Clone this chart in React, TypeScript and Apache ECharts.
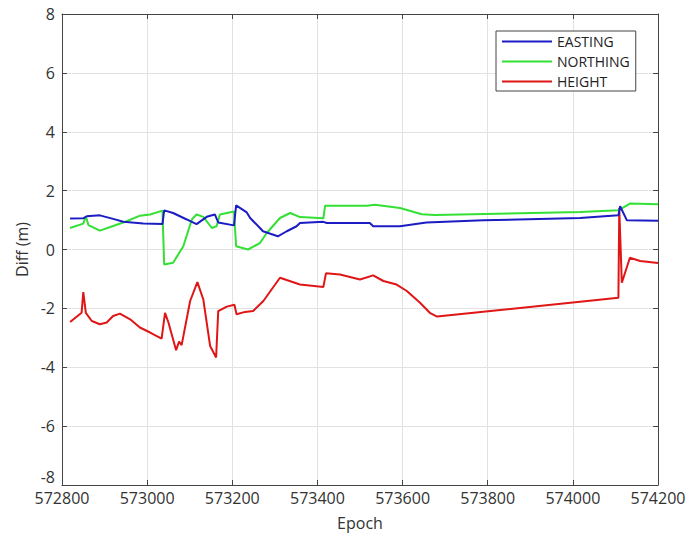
import React, { useEffect, useRef } from "react";
import * as echarts from "echarts";

const xTicks = [572800, 573000, 573200, 573400, 573600, 573800, 574000, 574200];
const yTicks = [-8, -6, -4, -2, 0, 2, 4, 6, 8];

const easting: [number, number][] = [
  [572819, 1.05], [572850, 1.06], [572858, 1.13], [572889, 1.16], [572920, 1.04],
  [572944, 0.94], [572991, 0.88], [573036, 0.87], [573040, 1.33], [573061, 1.24],
  [573093, 1.02], [573116, 0.86], [573140, 1.11], [573159, 1.19], [573167, 0.92],
  [573204, 0.82], [573209, 1.5], [573234, 1.26], [573242, 1.07], [573265, 0.73],
  [573272, 0.62], [573307, 0.45], [573328, 0.62], [573351, 0.79], [573359, 0.9],
  [573414, 0.94], [573422, 0.9], [573523, 0.9], [573531, 0.79], [573594, 0.79],
  [573656, 0.92], [573790, 0.99], [574017, 1.07], [574107, 1.16], [574111, 1.47],
  [574127, 0.99], [574200, 0.98],
];

const northing: [number, number][] = [
  [572819, 0.73], [572850, 0.88], [572856, 1.13], [572862, 0.83], [572889, 0.64],
  [572920, 0.8], [572952, 0.96], [572983, 1.15], [573007, 1.19], [573036, 1.32],
  [573040, -0.51], [573061, -0.45], [573085, 0.11], [573105, 1.02], [573116, 1.19],
  [573132, 1.11], [573152, 0.73], [573163, 0.79], [573171, 1.19], [573204, 1.29],
  [573209, 0.11], [573237, 0.0], [573265, 0.22], [573281, 0.56], [573312, 1.07],
  [573336, 1.24], [573359, 1.1], [573414, 1.06], [573418, 1.49], [573516, 1.49],
  [573535, 1.52], [573594, 1.41], [573645, 1.2], [573676, 1.17], [574017, 1.27],
  [574107, 1.33], [574134, 1.56], [574200, 1.54],
];

const height: [number, number][] = [
  [572819, -2.46], [572846, -2.15], [572850, -1.45], [572856, -2.15], [572870, -2.43],
  [572889, -2.54], [572905, -2.48], [572920, -2.26], [572936, -2.18], [572960, -2.37],
  [572983, -2.65], [573007, -2.82], [573034, -3.03], [573042, -2.15], [573050, -2.48],
  [573068, -3.42], [573075, -3.13], [573081, -3.25], [573101, -1.75], [573118, -1.11],
  [573132, -1.7], [573148, -3.28], [573162, -3.67], [573167, -2.09], [573187, -1.94],
  [573205, -1.88], [573210, -2.2], [573230, -2.12], [573249, -2.09], [573273, -1.75],
  [573312, -0.96], [573359, -1.19], [573414, -1.27], [573420, -0.81], [573453, -0.85],
  [573500, -1.02], [573531, -0.88], [573555, -1.07], [573586, -1.19], [573610, -1.41],
  [573641, -1.81], [573664, -2.15], [573681, -2.28], [574107, -1.64], [574109, 1.41],
  [574115, -1.13], [574134, -0.28], [574158, -0.39], [574200, -0.46],
];

const seriesNames = ["EASTING", "NORTHING", "HEIGHT"];
const seriesColors = ["#1c1cc4", "#33e033", "#e01616"];

export default function App() {
  const ref = useRef<HTMLDivElement>(null);
  useEffect(() => {
    if (!ref.current) return;
    const chart = echarts.init(ref.current, undefined, { renderer: "svg" });
    const font = "'Open Sans', sans-serif";
    const datas = [easting, northing, height];
    const xBase = {
      type: "value",
      min: xTicks[0],
      max: xTicks[xTicks.length - 1],
      interval: xTicks[1] - xTicks[0],
    };
    const yBase = {
      type: "value",
      min: yTicks[0],
      max: yTicks[yTicks.length - 1],
      interval: yTicks[1] - yTicks[0],
    };
    chart.setOption({
      animation: false,
      backgroundColor: "#ffffff",
      textStyle: { fontFamily: font },
      grid: { left: 62, right: 31, top: 14, bottom: 50 },
      legend: {
        data: seriesNames,
        orient: "vertical",
        left: 496,
        top: 31,
        itemWidth: 50,
        itemHeight: 2,
        itemGap: 5,
        padding: [3, 6, 2, 6],
        backgroundColor: "#fff",
        borderColor: "#444",
        borderWidth: 1,
        icon: "rect",
        textStyle: { fontSize: 14, lineHeight: 15, color: "#222", fontFamily: font },
      },
      xAxis: [
        {
          ...xBase,
          name: "Epoch",
          nameLocation: "middle",
          nameGap: 30,
          nameTextStyle: { fontSize: 16, color: "#333", fontFamily: font },
          axisLine: { show: true, onZero: false, lineStyle: { color: "#444" } },
          axisTick: { show: true, inside: true, length: 5, lineStyle: { color: "#444" } },
          axisLabel: { fontSize: 16, color: "#333", margin: 5, fontFamily: font, formatter: (v: number) => String(v) },
          splitLine: { show: true, lineStyle: { color: "#e2e2e2" } },
        },
        {
          ...xBase,
          position: "top",
          axisLine: { show: true, onZero: false, lineStyle: { color: "#444" } },
          axisTick: { show: true, inside: true, length: 5, lineStyle: { color: "#444" } },
          axisLabel: { show: false },
          splitLine: { show: false },
        },
      ],
      yAxis: [
        {
          ...yBase,
          name: "Diff (m)",
          nameLocation: "middle",
          nameGap: 32,
          nameTextStyle: { fontSize: 16, color: "#333", fontFamily: font },
          axisLine: { show: true, onZero: false, lineStyle: { color: "#444" } },
          axisTick: { show: true, inside: true, length: 5, lineStyle: { color: "#444" } },
          axisLabel: {
            fontSize: 16,
            color: "#333",
            margin: 7,
            fontFamily: font,
            verticalAlignMinLabel: "bottom",
          },
          splitLine: { show: true, lineStyle: { color: "#e2e2e2" } },
        },
        {
          ...yBase,
          position: "right",
          axisLine: { show: true, onZero: false, lineStyle: { color: "#444" } },
          axisTick: { show: true, inside: true, length: 5, lineStyle: { color: "#444" } },
          axisLabel: { show: false },
          splitLine: { show: false },
        },
      ],
      series: seriesNames.map((n, i) => ({
        name: n,
        type: "line",
        data: datas[i],
        showSymbol: false,
        symbol: "none",
        color: seriesColors[i],
        lineStyle: { width: 2, color: seriesColors[i] },
        xAxisIndex: 0,
        yAxisIndex: 0,
        z: 10 - i,
      })),
    });
    return () => chart.dispose();
  }, []);
  return <div ref={ref} style={{ width: 689, height: 536, position: "absolute", left: 0, top: 0 }} />;
}
